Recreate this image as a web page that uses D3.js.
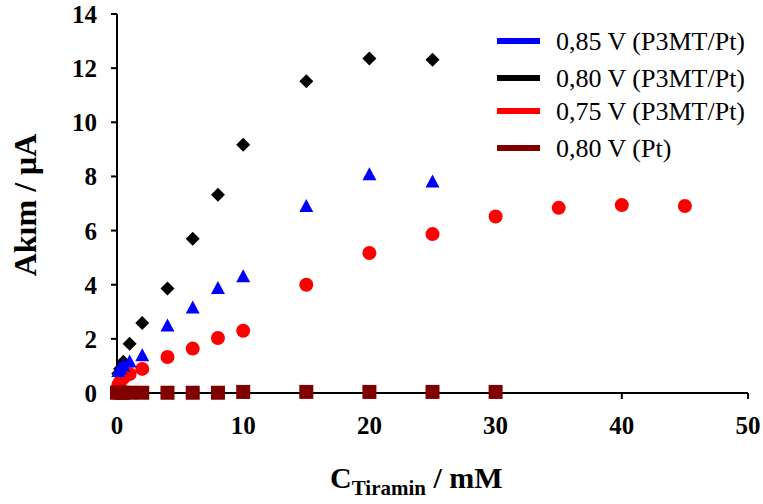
<!DOCTYPE html>
<html><head><meta charset="utf-8">
<script src="https://cdn.jsdelivr.net/npm/d3@7"></script>
</head><body>
<svg id="chart" width="763" height="504"></svg>
<script>
document.body.style.margin = "0";
document.getElementById("chart").style.display = "block";

const xTicks = [0, 10, 20, 30, 40, 50];
const yTicks = [0, 2, 4, 6, 8, 10, 12, 14];

const seriesNames = ["0,85 V (P3MT/Pt)", "0,80 V (P3MT/Pt)", "0,75 V (P3MT/Pt)", "0,80 V (Pt)"];
const seriesColors = ["#0000ff", "#000000", "#ff0000", "#800000"];

const x085 = [0.1, 0.25, 0.5, 1, 2, 4, 6, 8, 10, 15, 20, 25];
const y085 = [0.75, 0.85, 0.95, 1.1, 1.33, 2.43, 3.1, 3.82, 4.25, 6.85, 8.02, 7.75];

const x080 = [0.1, 0.25, 0.5, 1, 2, 4, 6, 8, 10, 15, 20, 25];
const y080 = [0.72, 0.9, 1.15, 1.82, 2.59, 3.86, 5.7, 7.32, 9.17, 11.52, 12.36, 12.31];

const x075 = [0.1, 0.25, 0.5, 1, 2, 4, 6, 8, 10, 15, 20, 25, 30, 35, 40, 45];
const y075 = [0.3, 0.42, 0.55, 0.7, 0.89, 1.33, 1.64, 2.03, 2.3, 4.0, 5.17, 5.87, 6.52, 6.84, 6.94, 6.91];

const xPt = [0, 0.25, 0.5, 1, 2, 4, 6, 8, 10, 15, 20, 25, 30];
const yPt = [0.01, 0.01, 0.01, 0.01, 0.01, 0.01, 0.01, 0.01, 0.04, 0.04, 0.04, 0.04, 0.04];

const fam = "Liberation" + " " + "Serif";
const FONT = `"${fam}"`;
const svg = d3.select("#chart");
const margin = {left: 117, top: 14, right: 15, bottom: 111};
const W = 763, H = 504;
const x = d3.scaleLinear().domain([0, 50]).range([margin.left, W - margin.right]);
const y = d3.scaleLinear().domain([0, 14]).range([H - margin.bottom, margin.top]);

// axes (drawn from scales)
const gx = svg.append("g");
gx.append("line").attr("x1", x(0)).attr("x2", x(50)).attr("y1", y(0)).attr("y2", y(0))
  .attr("stroke", "#000").attr("stroke-width", 2);
xTicks.forEach(t => {
  gx.append("line").attr("x1", x(t)).attr("x2", x(t)).attr("y1", y(0)).attr("y2", y(0) + 6)
    .attr("stroke", "#000").attr("stroke-width", 2);
  gx.append("text").attr("font-family", FONT).attr("x", x(t)).attr("y", y(0) + 41).attr("text-anchor", "middle")
    .attr("font-size", 25).attr("font-weight", "bold").text(t);
});
const gy = svg.append("g");
gy.append("line").attr("x1", x(0)).attr("x2", x(0)).attr("y1", y(0)).attr("y2", y(14))
  .attr("stroke", "#000").attr("stroke-width", 2);
yTicks.forEach(t => {
  gy.append("line").attr("x1", x(0) - 6).attr("x2", x(0)).attr("y1", y(t)).attr("y2", y(t))
    .attr("stroke", "#000").attr("stroke-width", 2);
  gy.append("text").attr("font-family", FONT).attr("x", x(0) - 20).attr("y", y(t) + 9).attr("text-anchor", "end")
    .attr("font-size", 25).attr("font-weight", "bold").text(t);
});

// axis titles
svg.append("text").attr("font-family", FONT)
  .attr("transform", `translate(36,205) rotate(-90)`)
  .attr("text-anchor", "middle")
  .attr("font-size", 32).attr("font-weight", "bold")
  .text("Akım / μA");

const xt = svg.append("text").attr("font-family", FONT)
  .attr("x", 330).attr("y", 488)
  .attr("font-size", 30).attr("font-weight", "bold");
xt.append("tspan").text("C");
xt.append("tspan").attr("dy", 7).attr("font-size", 21).text("Tiramin");
xt.append("tspan").attr("dy", -7).text(" / mM");

// markers
function diamondPath(r) { return `M0,${-r}L${r},0L0,${r}L${-r},0Z`; }
function trianglePath(w, h) { return `M0,${-h * 2 / 3}L${w / 2},${h / 3}L${-w / 2},${h / 3}Z`; }

const gBlack = svg.append("g");
gBlack.selectAll("path").data(d3.zip(x080, y080)).join("path")
  .attr("d", diamondPath(7))
  .attr("transform", d => `translate(${x(d[0])},${y(d[1])})`)
  .attr("fill", seriesColors[1]);

const gRed = svg.append("g");
gRed.selectAll("circle").data(d3.zip(x075, y075)).join("circle")
  .attr("cx", d => x(d[0])).attr("cy", d => y(d[1])).attr("r", 7)
  .attr("fill", seriesColors[2]);

const gBlue = svg.append("g");
gBlue.selectAll("path").data(d3.zip(x085, y085)).join("path")
  .attr("d", trianglePath(14, 13))
  .attr("transform", d => `translate(${x(d[0])},${y(d[1])})`)
  .attr("fill", seriesColors[0]);

const gPt = svg.append("g");
gPt.selectAll("rect").data(d3.zip(xPt, yPt)).join("rect")
  .attr("x", d => x(d[0]) - 7).attr("y", d => y(d[1]) - 7)
  .attr("width", 14).attr("height", 14)
  .attr("fill", seriesColors[3]);

// legend
const legY = [41, 78, 111, 148];
const leg = svg.append("g");
seriesNames.forEach((n, i) => {
  leg.append("line").attr("x1", 497).attr("x2", 540).attr("y1", legY[i]).attr("y2", legY[i])
    .attr("stroke", seriesColors[i]).attr("stroke-width", 6);
  leg.append("text").attr("font-family", FONT).attr("x", 556).attr("y", legY[i] + 9)
    .attr("font-size", 26).text(n);
});
</script>
</body></html>
